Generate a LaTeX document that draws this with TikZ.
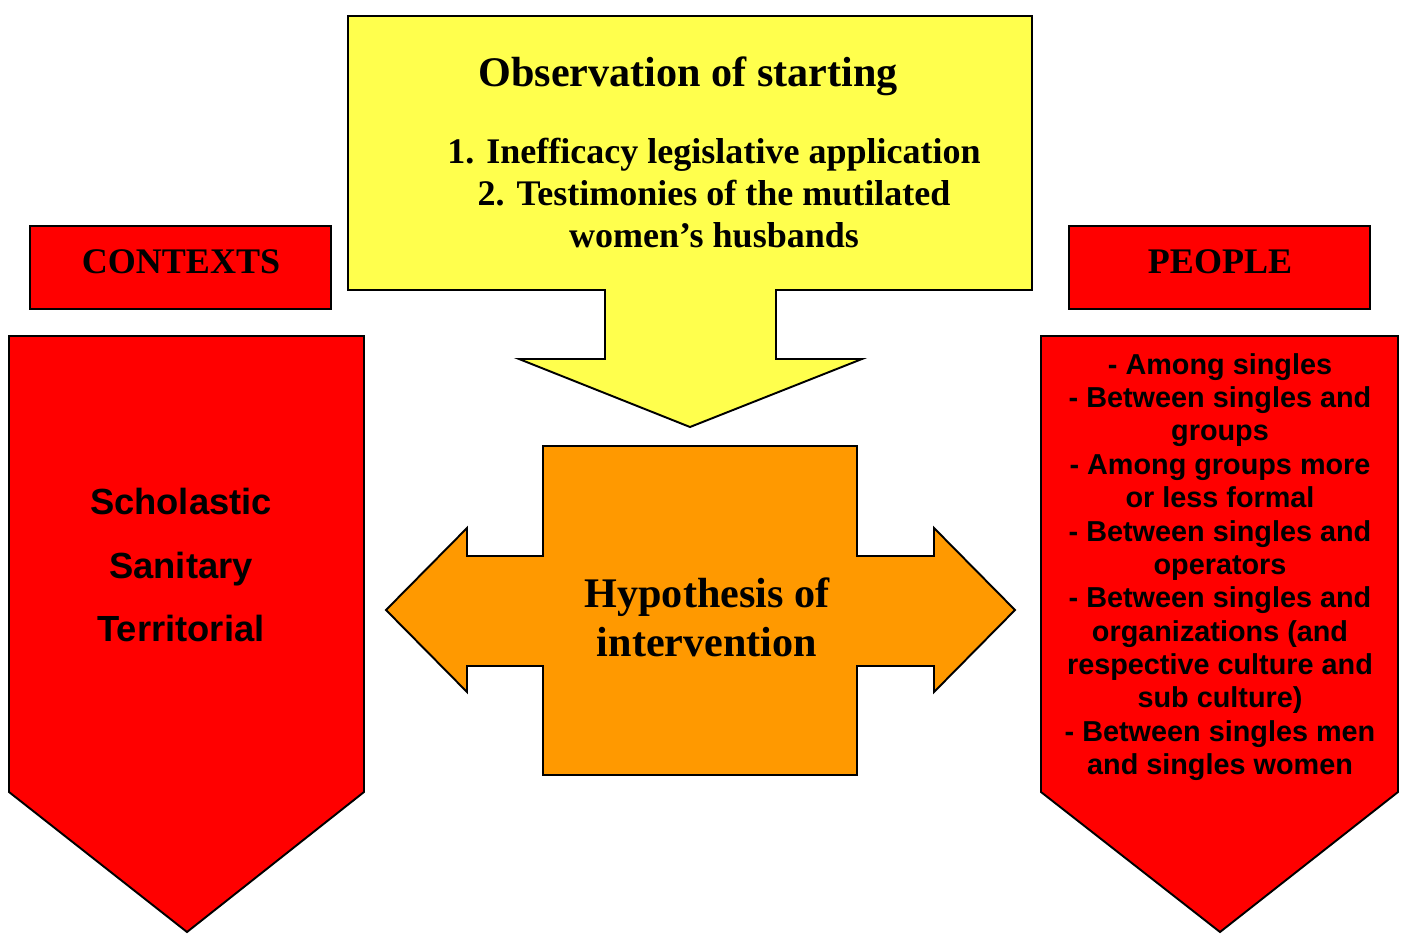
\documentclass[tikz,border=0pt]{standalone}
\usepackage{fontspec}
\setmainfont{Liberation Serif}
\setsansfont{Liberation Sans}
\usetikzlibrary{calc}
\definecolor{obsyellow}{RGB}{255,255,77}
\definecolor{hypoorange}{RGB}{255,153,0}
\tikzset{
	shape box/.style={draw=black, line width=1.1pt, line join=miter},
	serif label/.style={align=center, inner sep=0pt},
	sans label/.style={align=center, inner sep=0pt}
}

\begin{document}
\begin{tikzpicture}[x=0.02cm, y=-0.02cm]
			%%%%% START %%%%%
			
			\useasboundingbox (0, 0) rectangle (1402, 933);
			
			% observation callout, pointing down
			\draw[shape box, fill=obsyellow] (348, 16) -- (1032, 16) -- (1032, 290) -- (776, 290)
				-- (776, 359) -- (862, 359) -- (690, 427) -- (519, 359) -- (605, 359)
				-- (605, 290) -- (348, 290) -- cycle;
			\node[serif label, font=\rmfamily\bfseries\fontsize{24}{28}\selectfont] (obstitle) at (688, 76) {Observation of starting};
			\node[serif label, font=\rmfamily\bfseries\fontsize{20.5}{24}\selectfont] (obslist) at (714, 193)
				{1. Inefficacy legislative application\\2. Testimonies of the mutilated\\women’s husbands};
			
			% headers
			\draw[shape box, fill=red] (30, 226) rectangle (331, 309);
			\node[serif label, font=\rmfamily\bfseries\fontsize{20.5}{24}\selectfont] (contexts) at (181, 262) {CONTEXTS};
			\draw[shape box, fill=red] (1069, 226) rectangle (1370, 309);
			\node[serif label, font=\rmfamily\bfseries\fontsize{20.5}{24}\selectfont] (people) at (1220, 262) {PEOPLE};
			
			% left pentagon
			\draw[shape box, fill=red] (9, 336) -- (364, 336) -- (364, 792) -- (187, 932) -- (9, 792) -- cycle;
			\node[sans label, font=\sffamily\bfseries\fontsize{20.7}{36}\selectfont] (contextlist) at (181, 565)
				{Scholastic\\Sanitary\\Territorial};
			
			% right pentagon
			\draw[shape box, fill=red] (1041, 336) -- (1398, 336) -- (1398, 792) -- (1220, 932) -- (1041, 792) -- cycle;
			\node[sans label, font=\sffamily\bfseries\fontsize{16.4}{19}\selectfont] (peoplelist) at (1220, 567)
				{- Among singles\\- Between singles and\\groups\\- Among groups more\\or less formal\\- Between singles and\\operators\\- Between singles and\\organizations (and\\respective culture and\\sub culture)\\- Between singles men\\and singles women};
			
			% hypothesis double arrow
			\draw[shape box, fill=hypoorange] (543, 446) -- (857, 446) -- (857, 556) -- (934, 556)
				-- (934, 528) -- (1015, 610) -- (934, 692) -- (934, 666) -- (857, 666)
				-- (857, 775) -- (543, 775) -- (543, 666) -- (467, 666) -- (467, 692)
				-- (386, 610) -- (467, 528) -- (467, 556) -- (543, 556) -- cycle;
			\node[serif label, font=\rmfamily\bfseries\fontsize{24}{28}\selectfont] (hypothesis) at (707, 617)
				{Hypothesis of\\intervention};
			
			%%%%% END %%%%%
\end{tikzpicture}
\end{document}
